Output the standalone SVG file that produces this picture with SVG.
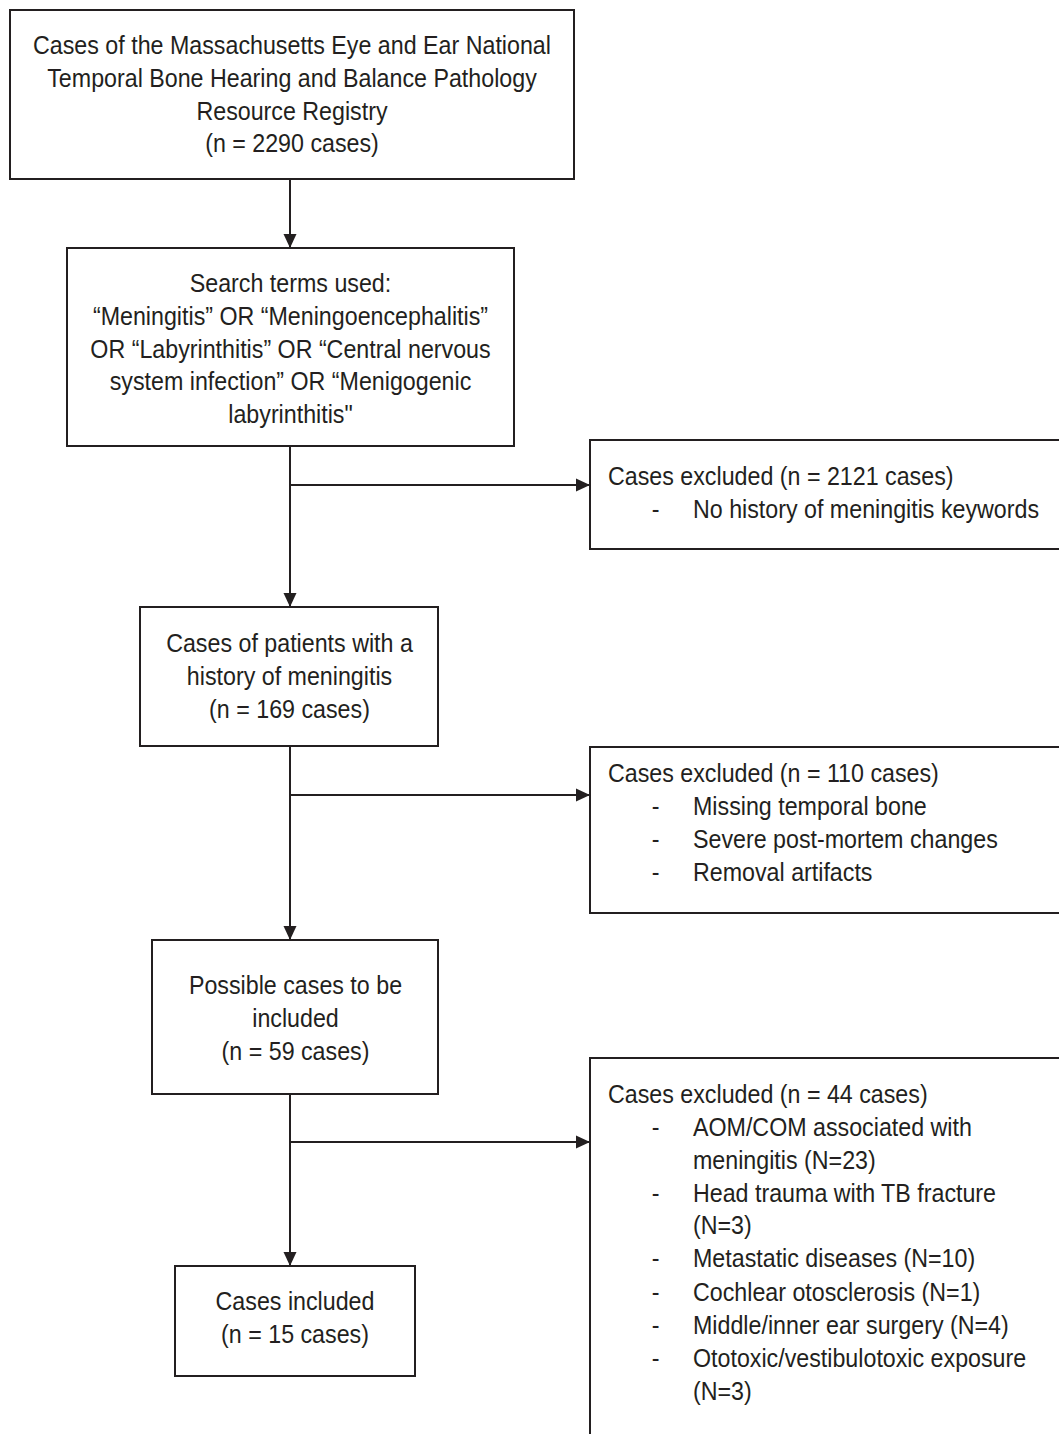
<svg xmlns="http://www.w3.org/2000/svg" width="1059" height="1434" viewBox="0 0 1059 1434">
<style>
.box{fill:#fff;stroke:#231f20;stroke-width:2}
.t{font-family:"Liberation Sans",Arial,sans-serif;font-size:25px;fill:#231f20}
.c{text-anchor:middle}
.ln{stroke:#231f20;stroke-width:2;fill:none}
</style>
<defs>
<marker id="ah" viewBox="0 0 14 14" refX="14" refY="7" markerWidth="14" markerHeight="14" markerUnits="userSpaceOnUse" orient="auto">
<path d="M0,0.5 L14,7 L0,13.5 z" fill="#231f20"/>
</marker>
</defs>
<rect width="1059" height="1434" fill="#fff"/>
<g id="connectors">
<line class="ln" x1="290" y1="179" x2="290" y2="248" marker-end="url(#ah)"/>
<line class="ln" x1="290" y1="446" x2="290" y2="607" marker-end="url(#ah)"/>
<line class="ln" x1="290" y1="485" x2="590" y2="485" marker-end="url(#ah)"/>
<line class="ln" x1="290" y1="746" x2="290" y2="940" marker-end="url(#ah)"/>
<line class="ln" x1="290" y1="795" x2="590" y2="795" marker-end="url(#ah)"/>
<line class="ln" x1="290" y1="1094" x2="290" y2="1266" marker-end="url(#ah)"/>
<line class="ln" x1="290" y1="1142" x2="590" y2="1142" marker-end="url(#ah)"/>
</g>
<g id="registry">
<rect class="box" x="10" y="10" width="564" height="169"/>
<g class="t c" transform="translate(292,0) scale(0.93,1)">
<text x="0" y="54.5">Cases of the Massachusetts Eye and Ear National</text>
<text x="0" y="87.2">Temporal Bone Hearing and Balance Pathology</text>
<text x="0" y="119.9">Resource Registry</text>
<text x="0" y="152.5">(n = 2290 cases)</text>
</g>
</g>
<g id="search">
<rect class="box" x="67" y="248" width="447" height="198"/>
<g class="t c" transform="translate(290.5,0) scale(0.93,1)">
<text x="0" y="292.5">Search terms used:</text>
<text x="0" y="325.5">“Meningitis” OR “Meningoencephalitis”</text>
<text x="0" y="358">OR “Labyrinthitis” OR “Central nervous</text>
<text x="0" y="390.5">system infection” OR “Menigogenic</text>
<text x="0" y="423.5">labyrinthitis"</text>
</g>
</g>
<g id="excl1">
<rect class="box" x="590" y="440" width="490" height="109"/>
<g class="t" transform="translate(608,0) scale(0.93,1)">
<text x="0" y="485.5">Cases excluded (n = 2121 cases)</text>
<text x="47" y="518.5">-</text>
<text x="91.4" y="518.5">No history of meningitis keywords</text>
</g>
</g>
<g id="history">
<rect class="box" x="140" y="607" width="298" height="139"/>
<g class="t c" transform="translate(289.5,0) scale(0.93,1)">
<text x="0" y="652.5">Cases of patients with a</text>
<text x="0" y="685.5">history of meningitis</text>
<text x="0" y="718.5">(n = 169 cases)</text>
</g>
</g>
<g id="excl2">
<rect class="box" x="590" y="747" width="490" height="166"/>
<g class="t" transform="translate(608,0) scale(0.93,1)">
<text x="0" y="782.5">Cases excluded (n = 110 cases)</text>
<text x="47" y="815.5">-</text>
<text x="91.4" y="815.5">Missing temporal bone</text>
<text x="47" y="848.5">-</text>
<text x="91.4" y="848.5">Severe post-mortem changes</text>
<text x="47" y="881.5">-</text>
<text x="91.4" y="881.5">Removal artifacts</text>
</g>
</g>
<g id="possible">
<rect class="box" x="152" y="940" width="286" height="154"/>
<g class="t c" transform="translate(295.5,0) scale(0.93,1)">
<text x="0" y="994.5">Possible cases to be</text>
<text x="0" y="1027.5">included</text>
<text x="0" y="1060.5">(n = 59 cases)</text>
</g>
</g>
<g id="excl3">
<rect class="box" x="590" y="1058" width="490" height="400"/>
<g class="t" transform="translate(608,0) scale(0.93,1)">
<text x="0" y="1103.5">Cases excluded (n = 44 cases)</text>
<text x="47" y="1136.5">-</text>
<text x="91.4" y="1136.5">AOM/COM associated with</text>
<text x="91.4" y="1169.5">meningitis (N=23)</text>
<text x="47" y="1202.5">-</text>
<text x="91.4" y="1202.5">Head trauma with TB fracture</text>
<text x="91.4" y="1234.5">(N=3)</text>
<text x="47" y="1267.5">-</text>
<text x="91.4" y="1267.5">Metastatic diseases (N=10)</text>
<text x="47" y="1301.5">-</text>
<text x="91.4" y="1301.5">Cochlear otosclerosis (N=1)</text>
<text x="47" y="1334.5">-</text>
<text x="91.4" y="1334.5">Middle/inner ear surgery (N=4)</text>
<text x="47" y="1367.5">-</text>
<text x="91.4" y="1367.5">Ototoxic/vestibulotoxic exposure</text>
<text x="91.4" y="1400.5">(N=3)</text>
</g>
</g>
<g id="included">
<rect class="box" x="175" y="1266" width="240" height="110"/>
<g class="t c" transform="translate(295,0) scale(0.93,1)">
<text x="0" y="1310.5">Cases included</text>
<text x="0" y="1343.5">(n = 15 cases)</text>
</g>
</g>
</svg>
